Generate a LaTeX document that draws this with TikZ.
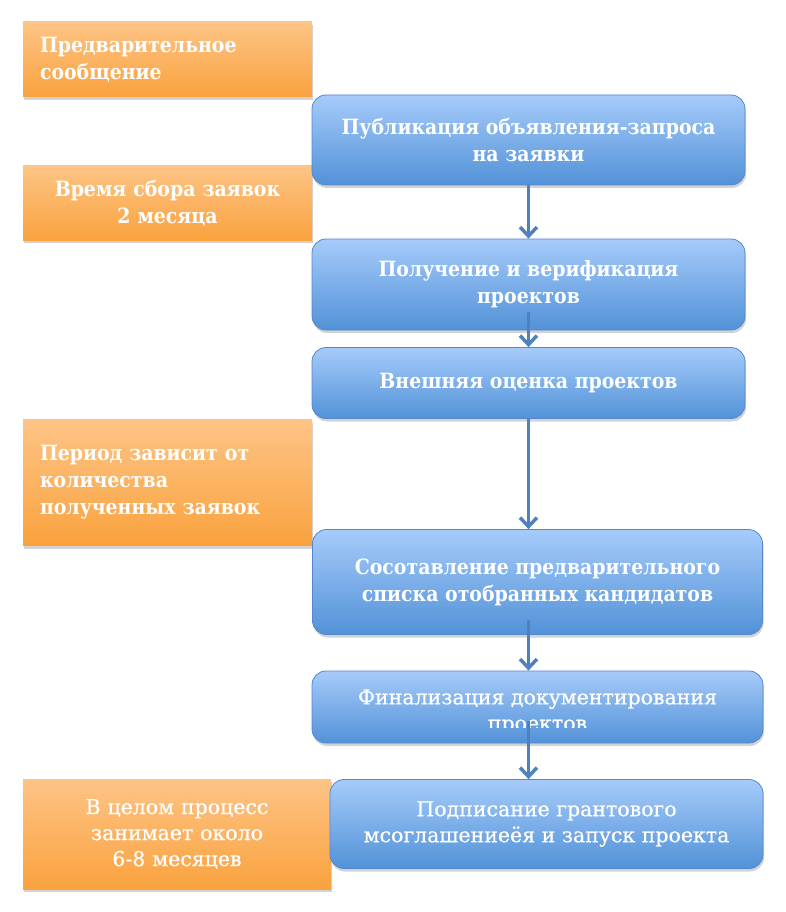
\documentclass[tikz,border=0pt]{standalone}
\usepackage{fontspec}
\setmainfont{DejaVu Serif}
\newfontfamily\narrowfont{DejaVu Serif Condensed}
\newfontfamily\widefont[FakeBold=0.6]{DejaVu Serif}
\usetikzlibrary{shadows,arrows.meta,calc}
\definecolor{orangetop}{RGB}{253,196,134}
\definecolor{orangebot}{RGB}{250,162,62}
\definecolor{bluetop}{RGB}{166,203,250}
\definecolor{bluebot}{RGB}{82,146,216}
\definecolor{blueline}{RGB}{84,135,204}
\definecolor{arrowblue}{RGB}{79,129,189}

\begin{document}
\begin{tikzpicture}[x=1pt,y=-1pt,
    note/.style={rectangle,top color=orangetop,bottom color=orangebot,draw=none,text=white,
      inner xsep=17pt,inner ysep=0pt,font=\narrowfont\bfseries\fontsize{21}{27}\selectfont,
      drop shadow={shadow xshift=1pt,shadow yshift=-3pt,opacity=.35}},
    stage/.style={rectangle,rounded corners=14pt,top color=bluetop,bottom color=bluebot,
      draw=blueline,line width=.8pt,text=white,align=center,inner sep=0pt,
      font=\narrowfont\bfseries\fontsize{21}{27}\selectfont,
      drop shadow={shadow xshift=1pt,shadow yshift=-3pt,opacity=.35}},
    wide/.style={font=\widefont\fontsize{20.5}{26}\selectfont},
    caption/.style={text=white,align=center,inner sep=0pt},
    flow/.style={draw=arrowblue,line width=3.5pt,-{Straight Barb[length=9pt,width=17pt]}}]
  \useasboundingbox (0,0) rectangle (786,912);

  % time notes on the left
  \node[note,minimum width=289,minimum height=75,text width=255,align=left] (pre) at (167.5,59.5) {Предварительное\\сообщение};
  \node[note,minimum width=289,minimum height=74,text width=255,align=center] (collect) at (167.5,203) {Время сбора заявок\\2 месяца};
  \node[note,minimum width=289,minimum height=126,text width=255,align=left] (period) at (167.5,482.5) {Период зависит от\\количества\\полученных заявок};
  \node[note,wide,minimum width=308,minimum height=110,text width=274,align=center] (total) at (177,834) {В целом процесс\\занимает около\\6-8 месяцев};

  % stages
  \node[stage,minimum width=433,minimum height=90] (pub) at (528.5,140) {Публикация объявления-запроса\\на заявки};
  \node[stage,minimum width=433,minimum height=91] (recv) at (528.5,284.5) {Получение и верификация\\проектов};
  \node[stage,minimum width=433,minimum height=71] (eval) at (528.5,383) {Внешняя оценка проектов};
  \node[stage,minimum width=450,minimum height=105] (list) at (537.5,582) {Сосотавление предварительного\\списка отобранных кандидатов};
  \node[stage,minimum width=451,minimum height=72] (fin) at (537.5,707) {};
  \begin{scope}
    \clip (fin.north west) rectangle ([yshift=16pt]fin.south east);
    \node[caption,wide] (fintext) at (537.5,712) {Финализация документирования\\проектов};
  \end{scope}
  \node[stage,wide,minimum width=433,minimum height=89] (sign) at (546.5,824) {Подписание грантового\\мсоглашениеёя и запуск проекта};

  % arrows
  \foreach \a/\b/\s in {pub/recv/0,recv/eval/18,eval/list/0,list/fin/15,fin/sign/22}
    \draw[flow] ($(\a.south -| pub.south)+(0,-\s)$) -- (\b.north -| pub.south);
\end{tikzpicture}
\end{document}
